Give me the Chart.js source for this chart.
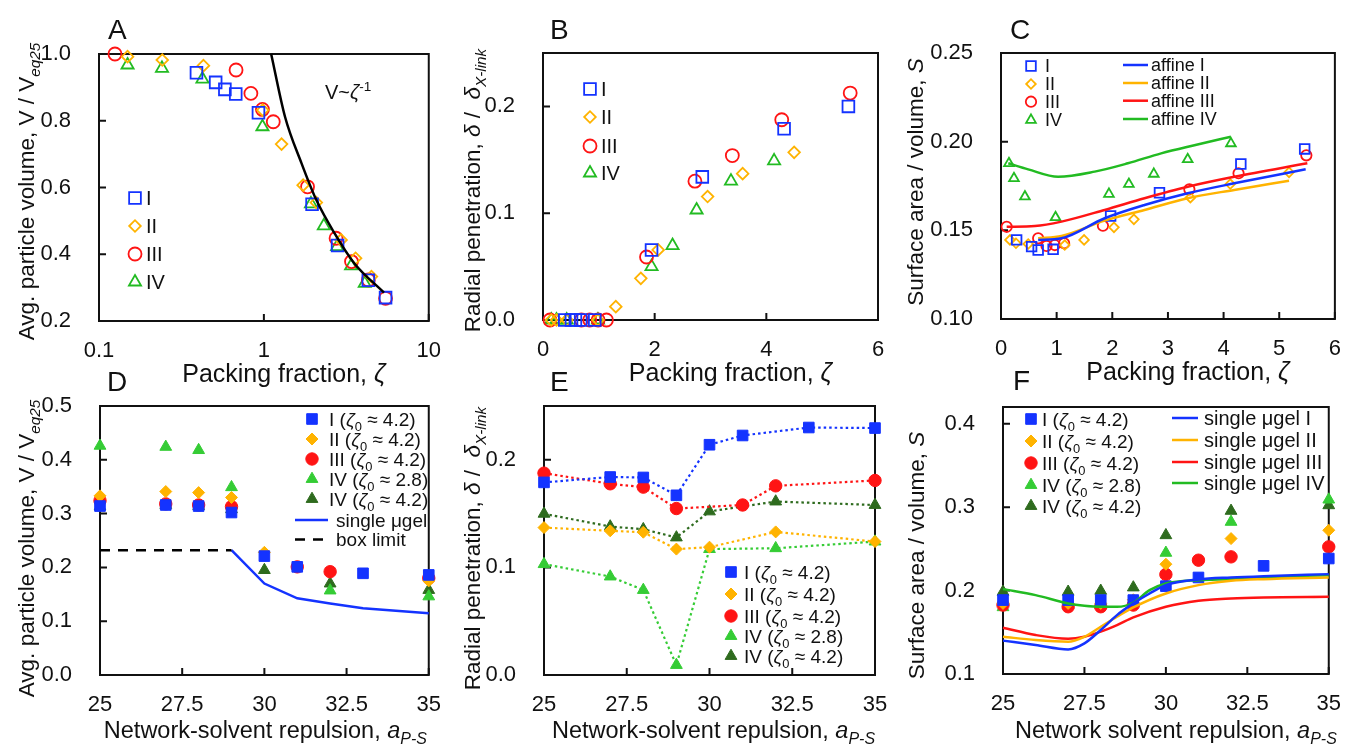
<!DOCTYPE html>
<html>
<head>
<meta charset="utf-8">
<script src="https://cdn.jsdelivr.net/npm/chart.js@4.4.1/dist/chart.umd.min.js"></script>
<style>
html, body { margin: 0; padding: 0; background: #fff; }
#fig { position: relative; width: 1350px; height: 745px; overflow: hidden; }
#fig canvas { position: absolute; }
</style>
</head>
<body>
<div id="fig">
<canvas id="panelA" width="450" height="395" style="left:0px;top:0px"></canvas>
<canvas id="panelB" width="450" height="395" style="left:450px;top:0px"></canvas>
<canvas id="panelC" width="450" height="395" style="left:900px;top:0px"></canvas>
<canvas id="panelD" width="450" height="390" style="left:0px;top:355px"></canvas>
<canvas id="panelE" width="450" height="390" style="left:450px;top:355px"></canvas>
<canvas id="panelF" width="450" height="390" style="left:900px;top:355px"></canvas>
</div>
<script>
// ---- panel A: particle volume vs packing fraction (log x)
const aZetaI = [0.39, 0.51, 0.58, 0.675, 0.927, 1.96, 2.80, 4.30, 5.47];
const aVolI = [0.944, 0.915, 0.894, 0.880, 0.824, 0.550, 0.426, 0.322, 0.270];
const aZetaII = [0.149, 0.242, 0.43, 0.984, 1.28, 1.73, 2.08, 2.94, 3.60, 4.49];
const aVolII = [0.992, 0.982, 0.965, 0.832, 0.730, 0.607, 0.555, 0.443, 0.388, 0.333];
const aZetaIII = [0.125, 0.678, 0.834, 0.98, 1.14, 1.84, 2.74, 3.40, 4.30, 5.47];
const aVolIII = [1.0, 0.952, 0.882, 0.834, 0.797, 0.602, 0.448, 0.378, 0.323, 0.268];
const aZetaIV = [0.149, 0.241, 0.424, 0.98, 1.93, 2.31, 2.78, 3.38, 4.09];
const aVolIV = [0.967, 0.957, 0.925, 0.782, 0.551, 0.485, 0.423, 0.365, 0.313];
const aFitZeta = [1.107, 1.343, 1.69, 2.078, 2.68, 3.53, 5.35];
const aFitVol = [1.0, 0.812, 0.673, 0.563, 0.463, 0.373, 0.285];
const aTicksX = [0.1, 1, 10];
const aTicksY = [0.2, 0.4, 0.6, 0.8, 1.0];

// ---- panel B: radial penetration vs packing fraction
const bZetaI = [0.39, 0.51, 0.58, 0.675, 0.927, 1.944, 2.853, 4.318, 5.47];
const bPenI = [0, 0, 0, 0, 0, 0.0656, 0.134, 0.179, 0.200];
const bZetaII = [0.149, 0.242, 0.43, 0.984, 1.304, 1.752, 2.063, 2.948, 3.576, 4.498];
const bPenII = [0, 0, 0, 0, 0.0125, 0.039, 0.0656, 0.1156, 0.137, 0.157];
const bZetaIII = [0.125, 0.688, 0.837, 0.987, 1.136, 1.854, 2.721, 3.391, 4.276, 5.502];
const bPenIII = [0, 0, 0, 0, 0, 0.059, 0.130, 0.154, 0.1875, 0.2125];
const bZetaIV = [0.149, 0.241, 0.424, 0.984, 1.944, 2.32, 2.751, 3.367, 4.139];
const bPenIV = [0, 0, 0, 0, 0.050, 0.0697, 0.103, 0.130, 0.149];
const bTicksX = [0, 2, 4, 6];
const bTicksY = [0, 0.1, 0.2];

// ---- panel C: surface / volume vs packing fraction
const cZetaI = [0.281, 0.55, 0.668, 0.937, 1.97, 2.848, 4.31, 5.457];
const cSI = [0.1446, 0.1408, 0.1389, 0.1393, 0.1581, 0.1712, 0.1874, 0.1959];
const cZetaII = [0.161, 0.269, 0.489, 1.146, 1.493, 2.03, 2.388, 3.403, 4.12, 5.176];
const cSII = [0.1446, 0.1427, 0.1423, 0.1417, 0.1446, 0.1517, 0.1562, 0.1684, 0.1761, 0.1827];
const cZetaIII = [0.102, 0.668, 0.818, 0.967, 1.134, 1.832, 3.385, 4.269, 5.487];
const cSIII = [0.152, 0.1455, 0.1412, 0.1417, 0.1427, 0.1526, 0.1731, 0.1822, 0.1923];
const cZetaIV = [0.143, 0.233, 0.43, 0.98, 1.94, 2.298, 2.746, 3.355, 4.132];
const cSIV = [0.1878, 0.1793, 0.169, 0.1573, 0.1705, 0.1761, 0.1818, 0.190, 0.199];
const cAffZetaI = [0.668, 1.087, 1.863, 2.579, 3.355, 4.191, 5.475];
const cAffSI = [0.1446, 0.1455, 0.1568, 0.1643, 0.1709, 0.1765, 0.1844];
const cAffZetaII = [0.668, 1.087, 1.863, 2.579, 3.355, 4.191, 5.176];
const cAffSII = [0.1455, 0.1468, 0.1555, 0.1615, 0.1681, 0.1728, 0.178];
const cAffZetaIII = [0.102, 0.609, 1.087, 1.863, 2.579, 3.355, 4.191, 5.505];
const cAffSIII = [0.152, 0.1524, 0.1549, 0.1615, 0.1681, 0.1746, 0.1802, 0.1878];
const cAffZetaIV = [0.131, 0.489, 1.026, 1.684, 2.28, 2.878, 3.475, 4.132];
const cAffSIV = [0.1878, 0.1844, 0.1802, 0.1831, 0.1878, 0.1934, 0.198, 0.2028];
const cTicksX = [0, 1, 2, 3, 4, 5, 6];
const cTicksY = [0.10, 0.15, 0.20, 0.25];

// ---- panel D: particle volume vs repulsion
const dRepI = [25, 27, 28, 29, 30, 31, 33, 35];
const dVolI = [0.314, 0.316, 0.314, 0.302, 0.221, 0.201, 0.189, 0.186];
const dRepII = [25, 27, 28, 29, 30, 35];
const dVolII = [0.333, 0.341, 0.339, 0.330, 0.228, 0.175];
const dRepIII = [25, 27, 28, 29, 31, 32, 35];
const dVolIII = [0.324, 0.318, 0.316, 0.313, 0.201, 0.192, 0.180];
const dRepIV28 = [25, 27, 28, 29, 32, 35];
const dVolIV28 = [0.426, 0.424, 0.418, 0.349, 0.157, 0.146];
const dRepIV42 = [25, 27, 28, 29, 30, 32, 35];
const dVolIV42 = [0.313, 0.316, 0.314, 0.308, 0.195, 0.170, 0.158];
const dGelRep = [29, 30, 31, 32, 33, 35];
const dGelVol = [0.232, 0.170, 0.1425, 0.133, 0.124, 0.1146];
const dBoxRep = [25, 29];
const dBoxVol = [0.232, 0.232];
const repTicks = [25, 27.5, 30, 32.5, 35];
const dTicksY = [0, 0.1, 0.2, 0.3, 0.4, 0.5];

// ---- panel E: radial penetration vs repulsion
const eRepI = [25, 27, 28, 29, 30, 31, 33, 35];
const ePenI = [0.179, 0.184, 0.1836, 0.167, 0.214, 0.2226, 0.230, 0.2295];
const eRepII = [25, 27, 28, 29, 30, 32, 35];
const ePenII = [0.137, 0.134, 0.1327, 0.117, 0.1188, 0.133, 0.124];
const eRepIII = [25, 27, 28, 29, 31, 32, 35];
const ePenIII = [0.1876, 0.1777, 0.1746, 0.1547, 0.158, 0.1758, 0.1808];
const eRepIV28 = [25, 27, 28, 29, 30, 32, 35];
const ePenIV28 = [0.103, 0.0915, 0.079, 0.0093, 0.117, 0.1178, 0.124];
const eRepIV42 = [25, 27, 28, 29, 30, 32, 35];
const ePenIV42 = [0.1498, 0.138, 0.1355, 0.1278, 0.152, 0.1612, 0.158];
const eTicksY = [0, 0.1, 0.2];

// ---- panel F: surface / volume vs repulsion
const fRepI = [25, 27, 28, 29, 30, 31, 33, 35];
const fSI = [0.1886, 0.1886, 0.1886, 0.1886, 0.2053, 0.2157, 0.2296, 0.2384];
const fRepII = [25, 27, 28, 29, 30, 32, 35];
const fSII = [0.1846, 0.1846, 0.1846, 0.189, 0.2316, 0.2623, 0.2723];
const fRepIII = [25, 27, 28, 29, 30, 31, 32, 35];
const fSIII = [0.1826, 0.1806, 0.1806, 0.1826, 0.2193, 0.2364, 0.2404, 0.2524];
const fRepIV28 = [25, 27, 28, 30, 32, 35];
const fSIV28 = [0.180, 0.1826, 0.1826, 0.2452, 0.2823, 0.309];
const fRepIV42 = [25, 27, 28, 29, 30, 32, 35];
const fSIV42 = [0.1985, 0.1985, 0.1997, 0.2037, 0.2663, 0.2955, 0.3022];
const fGelRepI = [25, 26, 27, 27.5, 28, 28.5, 29, 29.5, 30, 31, 32, 33, 35];
const fGelSI = [0.140, 0.1347, 0.1295, 0.1367, 0.1527, 0.1706, 0.1846, 0.1965, 0.2065, 0.2133, 0.2157, 0.2173, 0.2197];
const fGelRepII = [25, 26, 27, 27.5, 28, 28.5, 29, 30, 31, 32, 33, 35];
const fGelSII = [0.1447, 0.1407, 0.1387, 0.1447, 0.1566, 0.1686, 0.1798, 0.1965, 0.2065, 0.2117, 0.2137, 0.2157];
const fGelRepIII = [25, 26, 27, 27.5, 28, 28.5, 29, 30, 31, 32, 33, 35];
const fGelSIII = [0.1554, 0.1467, 0.1423, 0.1447, 0.1507, 0.1586, 0.1678, 0.1806, 0.1878, 0.1905, 0.1917, 0.1925];
const fGelRepIV = [25, 26, 27, 27.5, 28, 28.5, 29, 29.5, 30, 31, 32, 33, 35];
const fGelSIV = [0.2017, 0.1945, 0.1846, 0.1818, 0.1806, 0.1806, 0.1854, 0.2005, 0.2085, 0.2125, 0.2137, 0.2157, 0.2185];
const fTicksY = [0.1, 0.2, 0.3, 0.4];

const FONT = "'Liberation Sans', Arial, Helvetica, sans-serif";
const TICK_SIZE = 22;
const TICK_LEN = 7;

const BLUE = '#1433ff';
const ORANGE = '#ffb300';
const RED = '#ff1414';
const GREEN = '#22bb22';
const LIGHT_GREEN = '#35cc35';
const DARK_GREEN = '#2e6b1e';

const TITLE_VOL = [['Avg. particle volume, V / V', ''], ['eq25', 'isub']];
const TITLE_PEN = [['Radial penetration, ', ''], ['δ', 'i'], [' /  ', ''], ['δ', 'i'], ['X-link', 'isub']];
const TITLE_SURF = [['Surface area / volume, ', ''], ['S', 'i']];
const TITLE_ZETA = [['Packing fraction, ', ''], ['ζ', 'i']];
const TITLE_REP = [['Network-solvent repulsion, ', ''], ['a', 'i'], ['P-S', 'isub']];
const TITLE_REP_F = [['Network solvent repulsion, ', ''], ['a', 'i'], ['P-S', 'isub']];

const PANEL_DECO = new Map();

function zetaLabel(name, z) {
    return [[name + ' (', ''], ['ζ', 'i'], ['0', 'sub'], [' ≈ ' + z + ')', '']];
}

function setFont(ctx, size, italic) {
    ctx.font = (italic ? 'italic ' : '') + size + 'px ' + FONT;
}

function drawRich(ctx, parts, x, y, size, align) {
    const segs = parts.map(([text, style]) => {
        const small = style.includes('sub') || style.includes('sup');
        return {
            text,
            italic: style.includes('i'),
            size: small ? size * 0.68 : size,
            shift: style.includes('sub') ? size * 0.25 : style.includes('sup') ? -size * 0.42 : 0
        };
    });
    let total = 0;
    segs.forEach((s) => {
        setFont(ctx, s.size, s.italic);
        s.w = ctx.measureText(s.text).width;
        total += s.w;
    });
    let pos = align === 'center' ? x - total / 2 : x;
    const base = y + size * 0.36;
    ctx.textBaseline = 'alphabetic';
    ctx.textAlign = 'left';
    segs.forEach((s) => {
        setFont(ctx, s.size, s.italic);
        ctx.fillText(s.text, pos, base + s.shift);
        pos += s.w;
    });
}

function drawMarker(ctx, style, x, y, r, color, filled, lw) {
    ctx.save();
    ctx.beginPath();
    if (style === 'circle') {
        ctx.arc(x, y, r, 0, Math.PI * 2);
    } else if (style === 'rect') {
        const s = r * Math.SQRT1_2;
        ctx.rect(x - s, y - s, 2 * s, 2 * s);
    } else if (style === 'rectRot') {
        ctx.moveTo(x - r, y);
        ctx.lineTo(x, y - r);
        ctx.lineTo(x + r, y);
        ctx.lineTo(x, y + r);
        ctx.closePath();
    } else {
        for (let k = 0; k < 3; k++) {
            const ang = k * 2 * Math.PI / 3;
            const px = x + Math.sin(ang) * r;
            const py = y - Math.cos(ang) * r;
            if (k) ctx.lineTo(px, py); else ctx.moveTo(px, py);
        }
        ctx.closePath();
    }
    if (filled) {
        ctx.fillStyle = color;
        ctx.fill();
    }
    ctx.strokeStyle = color;
    ctx.lineWidth = lw;
    ctx.stroke();
    ctx.restore();
}

const decoPlugin = {
    id: 'deco',
    beforeDatasetsDraw(chart) {
        const { ctx, chartArea: a } = chart;
        const xs = chart.scales.x;
        const ys = chart.scales.y;
        ctx.save();
        ctx.strokeStyle = '#111';
        ctx.lineWidth = 2;
        ctx.strokeRect(a.left, a.top, a.right - a.left, a.bottom - a.top);
        ctx.beginPath();
        xs.ticks.forEach((t) => {
            const p = xs.getPixelForValue(t.value);
            ctx.moveTo(p, a.bottom);
            ctx.lineTo(p, a.bottom - TICK_LEN);
        });
        ys.ticks.forEach((t) => {
            const p = ys.getPixelForValue(t.value);
            ctx.moveTo(a.left, p);
            ctx.lineTo(a.left + TICK_LEN, p);
        });
        ctx.stroke();
        ctx.restore();
    },
    afterDraw(chart) {
        const deco = PANEL_DECO.get(chart.canvas.id);
        if (!deco) return;
        const { ctx, chartArea: a } = chart;
        const midX = (a.left + a.right) / 2;
        const midY = (a.top + a.bottom) / 2;
        ctx.save();
        ctx.fillStyle = '#111';

        drawRich(ctx, deco.xTitle, midX + deco.xTitleDx, a.bottom + deco.xTitleDy, deco.xTitleSize, 'center');

        ctx.save();
        ctx.translate(a.left - deco.yTitleDx, midY + deco.yTitleDy);
        ctx.rotate(-Math.PI / 2);
        drawRich(ctx, deco.yTitle, 0, 0, 22.5, 'center');
        ctx.restore();

        drawRich(ctx, [[deco.letter, '']], a.left + deco.letterDx, a.top - deco.letterDy, 28, 'left');

        (deco.notes || []).forEach((n) => {
            drawRich(ctx, n.parts, a.left + n.dx, a.top + n.dy, n.size, 'left');
        });

        (deco.legends || []).forEach((g) => {
            g.items.forEach((it) => {
                const y = a.top + it.dy;
                if (it.line) {
                    ctx.save();
                    ctx.strokeStyle = it.color;
                    ctx.lineWidth = 2.5;
                    ctx.setLineDash(it.dash || []);
                    ctx.beginPath();
                    ctx.moveTo(a.left + g.lx1, y);
                    ctx.lineTo(a.left + g.lx2, y);
                    ctx.stroke();
                    ctx.restore();
                } else {
                    drawMarker(ctx, it.style, a.left + g.mx, y, it.r, it.color, it.filled, it.filled ? 1 : 1.8);
                }
                ctx.fillStyle = '#111';
                drawRich(ctx, it.text, a.left + g.tx, y, g.size, 'left');
            });
        });
        ctx.restore();
    }
};

function pts(xs, ys) {
    return xs.map((x, i) => ({ x, y: ys[i] }));
}

function markers(label, xs, ys, style, color, r, filled) {
    return {
        label,
        data: pts(xs, ys),
        showLine: false,
        pointStyle: style,
        pointRadius: r,
        pointHoverRadius: r,
        borderColor: color,
        backgroundColor: filled ? color : 'rgba(0,0,0,0)',
        pointBorderWidth: filled ? 1 : 1.8,
        clip: false
    };
}

function dotted(label, xs, ys, style, color, r) {
    const ds = markers(label, xs, ys, style, color, r, true);
    ds.showLine = true;
    ds.borderWidth = 2.2;
    ds.borderDash = [2.5, 3];
    ds.tension = 0;
    return ds;
}

function curve(label, xs, ys, color, dash, smooth) {
    return {
        label,
        data: pts(xs, ys),
        showLine: true,
        pointRadius: 0,
        pointHoverRadius: 0,
        borderColor: color,
        borderWidth: 2.5,
        borderDash: dash || [],
        cubicInterpolationMode: smooth ? 'monotone' : 'default',
        tension: 0,
        clip: false
    };
}

function axis(type, min, max, ticks, fmt, pad) {
    return {
        type,
        min,
        max,
        grid: { display: false },
        border: { display: false },
        ticks: {
            autoSkip: false,
            maxRotation: 0,
            minRotation: 0,
            padding: pad,
            color: '#111',
            font: { family: FONT, size: TICK_SIZE },
            callback: fmt
        },
        afterBuildTicks: (scale) => {
            scale.ticks = ticks.map((v) => ({ value: v }));
        }
    };
}

function makePanel(id, area, xAxis, yAxis, datasets, deco) {
    const canvas = document.getElementById(id);
    const cx = parseFloat(canvas.style.left);
    const cy = parseFloat(canvas.style.top);
    const cw = canvas.width;
    const ch = canvas.height;
    PANEL_DECO.set(id, deco);
    xAxis.afterFit = (s) => { s.height = cy + ch - area.bottom; };
    yAxis.afterFit = (s) => { s.width = area.left - cx; };
    return new Chart(canvas, {
        type: 'scatter',
        data: { datasets },
        options: {
            responsive: false,
            animation: false,
            devicePixelRatio: 1,
            events: [],
            layout: { padding: { left: 0, top: area.top - cy, right: cx + cw - area.right, bottom: 0 } },
            plugins: { legend: { display: false }, tooltip: { enabled: false } },
            scales: { x: xAxis, y: yAxis }
        },
        plugins: [decoPlugin]
    });
}

const fmt1 = (v) => Number(v).toFixed(1);
const fmt2 = (v) => Number(v).toFixed(2);
const fmtPlain = (v) => String(v);

// open-marker sizes for A/B, C and filled for D/E/F
const OPEN = { rect: 8.3, rectRot: 5.8, circle: 6.5, triangle: 7 };
const SMALL = { rect: 6.8, rectRot: 4.8, circle: 5.2, triangle: 5.6 };
const FILL = { rect: 7.5, rectRot: 6, circle: 6.2, triangle: 6.8 };
const X_PAD = 9;

function openLegend(sz) {
    return [
        { style: 'rect', r: sz.rect, color: BLUE, text: [['I', '']] },
        { style: 'rectRot', r: sz.rectRot, color: ORANGE, text: [['II', '']] },
        { style: 'circle', r: sz.circle, color: RED, text: [['III', '']] },
        { style: 'triangle', r: sz.triangle, color: GREEN, text: [['IV', '']] }
    ];
}

function filledLegend(rows) {
    const base = [
        { style: 'rect', color: BLUE, text: zetaLabel('I', '4.2') },
        { style: 'rectRot', color: ORANGE, text: zetaLabel('II', '4.2') },
        { style: 'circle', color: RED, text: zetaLabel('III', '4.2') },
        { style: 'triangle', color: LIGHT_GREEN, text: zetaLabel('IV', '2.8') },
        { style: 'triangle', color: DARK_GREEN, text: zetaLabel('IV', '4.2') }
    ];
    return base.map((it, i) => Object.assign(it, { r: FILL[it.style], filled: true, dy: rows[i] }));
}

const TOP_X = { xTitle: TITLE_ZETA, xTitleDx: 20, xTitleDy: 52, xTitleSize: 25 };

// Panel A
makePanel('panelA', { left: 99, top: 54, right: 432, bottom: 321 },
    axis('logarithmic', 0.1, 10, aTicksX, fmtPlain, X_PAD),
    axis('linear', 0.2, 1.0, aTicksY, fmt1, 20),
    [
        curve('V~ζ^-1', aFitZeta, aFitVol, '#000', null, true),
        markers('I', aZetaI, aVolI, 'rect', BLUE, OPEN.rect, false),
        markers('II', aZetaII, aVolII, 'rectRot', ORANGE, OPEN.rectRot, false),
        markers('III', aZetaIII, aVolIII, 'circle', RED, OPEN.circle, false),
        markers('IV', aZetaIV, aVolIV, 'triangle', GREEN, OPEN.triangle, false)
    ],
    Object.assign({}, TOP_X, {
        yTitle: TITLE_VOL, yTitleDx: 73, yTitleDy: 4,
        letter: 'A', letterDx: 9, letterDy: 25,
        notes: [{ parts: [['V~', ''], ['ζ', 'i'], ['-1', 'sup']], dx: 226, dy: 38, size: 20 }],
        legends: [{ mx: 36, tx: 47, size: 20, items: openLegend(OPEN).map((it, i) => Object.assign(it, { dy: [144, 172, 200, 228][i] })) }]
    }));

// Panel B
makePanel('panelB', { left: 543, top: 53, right: 878, bottom: 320 },
    axis('linear', 0, 6, bTicksX, fmtPlain, X_PAD),
    axis('linear', 0, 0.25, bTicksY, fmt1, 20),
    [
        markers('I', bZetaI, bPenI, 'rect', BLUE, OPEN.rect, false),
        markers('II', bZetaII, bPenII, 'rectRot', ORANGE, OPEN.rectRot, false),
        markers('III', bZetaIII, bPenIII, 'circle', RED, OPEN.circle, false),
        markers('IV', bZetaIV, bPenIV, 'triangle', GREEN, OPEN.triangle, false)
    ],
    Object.assign({}, TOP_X, {
        yTitle: TITLE_PEN, yTitleDx: 71, yTitleDy: 4,
        letter: 'B', letterDx: 7, letterDy: 24,
        legends: [{ mx: 47, tx: 58, size: 20, items: openLegend(OPEN).map((it, i) => Object.assign(it, { dy: [36, 64, 93, 120][i] })) }]
    }));

// Panel C
makePanel('panelC', { left: 1001, top: 53, right: 1336, bottom: 319 },
    axis('linear', 0, 6, cTicksX, fmtPlain, X_PAD),
    axis('linear', 0.10, 0.25, cTicksY, fmt2, 20),
    [
        curve('affine I', cAffZetaI, cAffSI, BLUE, null, true),
        curve('affine II', cAffZetaII, cAffSII, ORANGE, null, true),
        curve('affine III', cAffZetaIII, cAffSIII, RED, null, true),
        curve('affine IV', cAffZetaIV, cAffSIV, GREEN, null, true),
        markers('I', cZetaI, cSI, 'rect', BLUE, SMALL.rect, false),
        markers('II', cZetaII, cSII, 'rectRot', ORANGE, SMALL.rectRot, false),
        markers('III', cZetaIII, cSIII, 'circle', RED, SMALL.circle, false),
        markers('IV', cZetaIV, cSIV, 'triangle', GREEN, SMALL.triangle, false)
    ],
    Object.assign({}, TOP_X, {
        yTitle: TITLE_SURF, yTitleDx: 86, yTitleDy: -4,
        letter: 'C', letterDx: 9, letterDy: 24,
        legends: [
            { mx: 30, tx: 44, size: 18, items: openLegend(SMALL).map((it, i) => Object.assign(it, { dy: [13, 31, 48.7, 67][i] })) },
            {
                lx1: 122, lx2: 147, tx: 150, size: 18,
                items: [
                    { line: true, color: BLUE, dy: 12, text: [['affine I', '']] },
                    { line: true, color: ORANGE, dy: 30, text: [['affine II', '']] },
                    { line: true, color: RED, dy: 47.7, text: [['affine III', '']] },
                    { line: true, color: GREEN, dy: 66, text: [['affine IV', '']] }
                ]
            }
        ]
    }));

// Panel D
makePanel('panelD', { left: 100, top: 406, right: 433, bottom: 675 },
    axis('linear', 25, 35, repTicks, fmtPlain, X_PAD),
    axis('linear', 0, 0.5, dTicksY, fmt1, 20),
    [
        curve('box limit', dBoxRep, dBoxVol, '#000', [10, 8], false),
        curve('single μgel', dGelRep, dGelVol, BLUE, null, false),
        markers('I', dRepI, dVolI, 'rect', BLUE, FILL.rect, true),
        markers('II', dRepII, dVolII, 'rectRot', ORANGE, FILL.rectRot, true),
        markers('III', dRepIII, dVolIII, 'circle', RED, FILL.circle, true),
        markers('IV 2.8', dRepIV28, dVolIV28, 'triangle', LIGHT_GREEN, FILL.triangle, true),
        markers('IV 4.2', dRepIV42, dVolIV42, 'triangle', DARK_GREEN, FILL.triangle, true)
    ],
    {
        xTitle: TITLE_REP, xTitleDx: 1, xTitleDy: 55, xTitleSize: 23.5,
        yTitle: TITLE_VOL, yTitleDx: 74, yTitleDy: 8,
        letter: 'D', letterDx: 7, letterDy: 25,
        legends: [
            { mx: 212, tx: 229, size: 19, items: filledLegend([13, 33, 53, 73, 93]) },
            {
                lx1: 195, lx2: 228, tx: 236, size: 19,
                items: [
                    { line: true, color: BLUE, dy: 114, text: [['single μgel', '']] },
                    { line: true, color: '#000', dash: [10, 8], dy: 133.5, text: [['box limit', '']] }
                ]
            }
        ]
    });

// Panel E
makePanel('panelE', { left: 544, top: 406, right: 875, bottom: 675 },
    axis('linear', 25, 35, repTicks, fmtPlain, X_PAD),
    axis('linear', 0, 0.25, eTicksY, fmt1, 20),
    [
        dotted('I', eRepI, ePenI, 'rect', BLUE, FILL.rect),
        dotted('II', eRepII, ePenII, 'rectRot', ORANGE, FILL.rectRot),
        dotted('III', eRepIII, ePenIII, 'circle', RED, FILL.circle),
        dotted('IV 2.8', eRepIV28, ePenIV28, 'triangle', LIGHT_GREEN, FILL.triangle),
        dotted('IV 4.2', eRepIV42, ePenIV42, 'triangle', DARK_GREEN, FILL.triangle)
    ],
    {
        xTitle: TITLE_REP, xTitleDx: 4, xTitleDy: 55, xTitleSize: 23.5,
        yTitle: TITLE_PEN, yTitleDx: 72, yTitleDy: 8,
        letter: 'E', letterDx: 6, letterDy: 25,
        legends: [{ mx: 187, tx: 200, size: 19, items: filledLegend([166, 188, 210, 230, 250]) }]
    });

// Panel F
makePanel('panelF', { left: 1003, top: 407, right: 1333, bottom: 674 },
    axis('linear', 25, 35, repTicks, fmtPlain, X_PAD),
    axis('linear', 0.1, 0.42, fTicksY, fmt1, 20),
    [
        curve('single μgel I', fGelRepI, fGelSI, BLUE, null, true),
        curve('single μgel II', fGelRepII, fGelSII, ORANGE, null, true),
        curve('single μgel III', fGelRepIII, fGelSIII, RED, null, true),
        curve('single μgel IV', fGelRepIV, fGelSIV, GREEN, null, true),
        markers('I', fRepI, fSI, 'rect', BLUE, FILL.rect, true),
        markers('II', fRepII, fSII, 'rectRot', ORANGE, FILL.rectRot, true),
        markers('III', fRepIII, fSIII, 'circle', RED, FILL.circle, true),
        markers('IV 2.8', fRepIV28, fSIV28, 'triangle', LIGHT_GREEN, FILL.triangle, true),
        markers('IV 4.2', fRepIV42, fSIV42, 'triangle', DARK_GREEN, FILL.triangle, true)
    ],
    {
        xTitle: TITLE_REP_F, xTitleDx: 10, xTitleDy: 56, xTitleSize: 23.5,
        yTitle: TITLE_SURF, yTitleDx: 87, yTitleDy: 15,
        letter: 'F', letterDx: 10, letterDy: 27,
        legends: [
            { mx: 28, tx: 39, size: 19, items: filledLegend([12, 34, 56, 78, 99]) },
            {
                lx1: 169, lx2: 195, tx: 201, size: 20,
                items: [
                    { line: true, color: BLUE, dy: 11, text: [['single μgel I', '']] },
                    { line: true, color: ORANGE, dy: 33, text: [['single μgel II', '']] },
                    { line: true, color: RED, dy: 55, text: [['single μgel III', '']] },
                    { line: true, color: GREEN, dy: 76, text: [['single μgel IV', '']] }
                ]
            }
        ]
    });
</script>
</body>
</html>
